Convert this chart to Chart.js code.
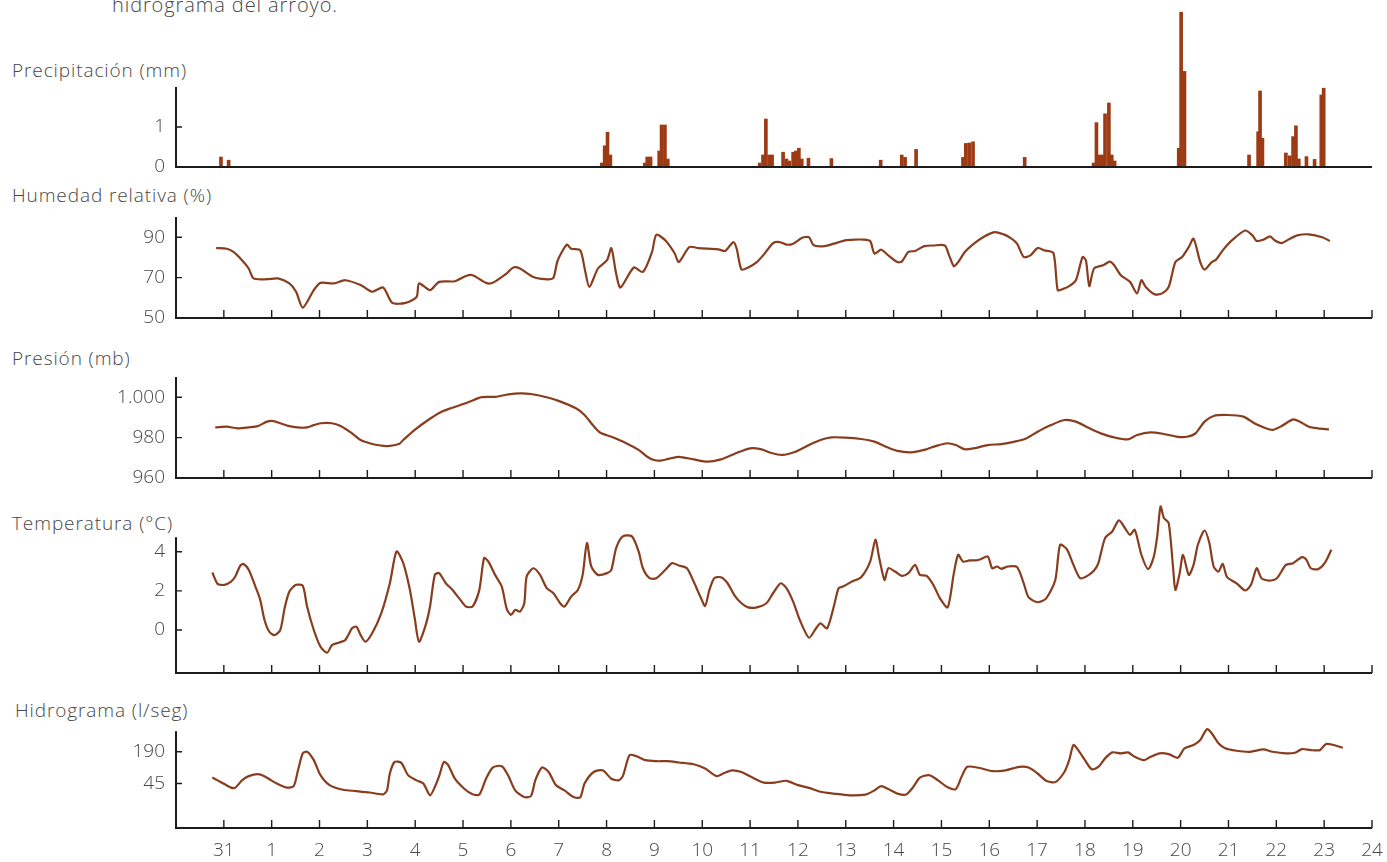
<!DOCTYPE html>
<html>
<head>
<meta charset="utf-8">
<script src="https://cdn.jsdelivr.net/npm/chart.js@4.4.1/dist/chart.umd.min.js"></script>
<style>
  body { margin: 0; background: #fff; width: 1387px; height: 862px; overflow: hidden; position: relative; font-family: "Open Sans", Lato, sans-serif; }
  .label { position: absolute; left: 12px; font-size: 19px; line-height: 22px; color: #474747; font-weight: 300; white-space: nowrap; letter-spacing: 0.9px; }
  canvas { position: absolute; left: 0; }
</style>
</head>
<body>
<div class="label" style="left:112px; top:-6px; font-size:20px">hidrograma del arroyo.</div>
<div class="label" style="top:59px">Precipitación (mm)</div>
<div class="label" style="top:184px">Humedad relativa (%)</div>
<div class="label" style="top:347px">Presión (mb)</div>
<div class="label" style="top:512px">Temperatura (°C)</div>
<div class="label" style="left:15px; top:699px">Hidrograma (l/seg)</div>

<canvas id="precip" width="1387" height="175" style="top:0px"></canvas>
<canvas id="humedad" width="1387" height="119" style="top:207px"></canvas>
<canvas id="presion" width="1387" height="119" style="top:367px"></canvas>
<canvas id="temp" width="1387" height="190" style="top:491px"></canvas>
<canvas id="hidro" width="1387" height="147" style="top:715px"></canvas>

<script>
// x axis: day 0 is the 31st, then 1..24
const dayTicks = [0,1,2,3,4,5,6,7,8,9,10,11,12,13,14,15,16,17,18,19,20,21,22,23,24];
const dayLabels = ['31','1','2','3','4','5','6','7','8','9','10','11','12','13','14','15','16','17','18','19','20','21','22','23','24'];

// Precipitación (mm)
const precipDays = [-0.06,0.1,7.9,7.96,8.02,8.08,8.8,8.85,8.92,9.1,9.15,9.22,9.28,11.2,11.27,11.33,11.4,11.46,11.69,11.76,11.82,11.9,11.96,12.02,12.08,12.22,12.7,13.73,14.17,14.24,14.47,15.45,15.51,15.58,15.66,16.74,18.18,18.24,18.3,18.36,18.42,18.5,18.56,18.62,19.96,20.01,20.08,21.43,21.62,21.66,21.71,22.2,22.28,22.35,22.41,22.47,22.63,22.8,22.94,22.99];
const precipMm = [0.25,0.17,0.1,0.53,0.87,0.3,0.1,0.25,0.25,0.4,1.05,1.05,0.2,0.1,0.3,1.2,0.3,0.3,0.37,0.2,0.15,0.37,0.4,0.47,0.2,0.22,0.21,0.17,0.3,0.24,0.44,0.24,0.59,0.6,0.63,0.24,0.1,1.11,0.3,0.3,1.33,1.6,0.3,0.15,0.47,3.87,2.39,0.3,0.88,1.9,0.72,0.35,0.28,0.76,1.03,0.2,0.26,0.19,1.8,1.97];
const precipTicks = [0, 1];

// Humedad relativa (%)
const humDays = [-0.16,0.06,0.2,0.38,0.52,0.62,0.9,1.13,1.37,1.51,1.65,1.88,2.02,2.3,2.54,2.86,3.1,3.33,3.52,3.8,4.03,4.08,4.31,4.5,4.83,5.06,5.2,5.48,5.62,5.91,6.05,6.19,6.47,6.79,6.89,6.98,7.17,7.26,7.45,7.54,7.64,7.82,8.01,8.1,8.2,8.29,8.57,8.76,8.95,9.04,9.23,9.42,9.51,9.73,9.92,10.1,10.34,10.48,10.65,10.72,10.82,10.96,11.14,11.29,11.48,11.62,11.76,11.9,12.09,12.23,12.33,12.56,12.75,12.99,13.18,13.37,13.51,13.6,13.74,13.89,14.08,14.17,14.31,14.45,14.64,14.83,15.07,15.16,15.26,15.35,15.49,15.68,15.87,16.11,16.3,16.44,16.58,16.72,16.86,17.01,17.15,17.34,17.43,17.53,17.67,17.81,17.95,18.02,18.09,18.19,18.38,18.52,18.61,18.75,18.94,19.09,19.18,19.27,19.46,19.61,19.75,19.89,20.03,20.17,20.27,20.41,20.5,20.65,20.74,20.88,21.07,21.35,21.5,21.59,21.73,21.87,21.97,22.11,22.25,22.44,22.68,22.96,23.12];
const humValues = [84.6,84.3,82.7,78.6,74.5,69.6,69.2,69.6,67.1,63,55.1,63.8,67.4,67.1,68.7,66.3,63,65.1,57.5,57.5,60.5,67.1,63.8,67.9,68.2,70.8,71.2,67.4,67.4,72,75,74.5,70.3,69.1,69.9,78.6,86.3,84.3,83.5,74.8,65.4,74.5,78.6,84.6,72,65.1,75,72.8,82.7,91.2,88.4,82.2,77.7,85.1,84.6,84.3,84,83.2,87.6,84.3,74,75,77.7,81.5,87.1,87.6,86.3,86.8,89.7,90,86,85.6,86.8,88.4,88.8,88.8,88.1,81.9,83.8,81,77.7,77.9,82.7,83.2,85.6,85.9,85.9,81,75.6,77.7,82.7,86.8,90,92.5,91.4,89.7,86.8,80.2,81,84.6,83.5,82.2,63.8,64.3,65.8,68.7,80.2,78.6,65.8,74.5,76.1,77.9,76.1,71.2,67.9,62.2,68.7,65.4,61.7,62.2,65.4,77.7,80.2,85.1,89.3,77.7,74,77.7,78.9,83.5,88.4,93.3,90.9,88.1,88.8,90.4,88.4,87.1,88.8,90.9,91.4,90,88.1];
const humTicks = [50, 70, 90];

// Presión (mb)
const presDays = [-0.18,0.06,0.29,0.52,0.71,0.9,1.04,1.18,1.37,1.6,1.74,1.88,2.02,2.26,2.44,2.68,2.86,3.05,3.24,3.43,3.66,3.75,3.99,4.27,4.55,4.74,5.11,5.39,5.67,5.95,6.19,6.42,6.7,6.98,7.36,7.54,7.73,7.87,8.1,8.39,8.67,8.85,8.99,9.13,9.32,9.51,9.82,10.11,10.39,10.67,11.0,11.24,11.43,11.67,11.95,12.23,12.47,12.7,12.99,13.32,13.6,13.84,14.08,14.36,14.64,14.88,15.12,15.3,15.49,15.68,15.97,16.25,16.53,16.77,17.01,17.29,17.57,17.81,18.05,18.33,18.61,18.9,19.09,19.37,19.65,19.94,20.13,20.31,20.5,20.69,20.97,21.31,21.54,21.73,21.92,22.11,22.35,22.49,22.68,22.87,23.1];
const presValues = [985.1,985.4,984.6,985.1,985.7,987.9,988.2,987.1,985.7,984.9,985.1,986.2,987.1,987.1,985.7,982.1,978.8,977.2,976.2,975.8,976.8,978.8,983.8,988.7,992.8,994.5,997.5,1000,1000.2,1001.4,1001.9,1001.6,1000.2,998.3,994.5,991.2,985.7,982.4,980.4,977.5,973.9,970.5,968.9,968.6,969.6,970.5,969.2,968.1,969.2,971.9,974.7,974.2,972.5,971.4,973,976.3,978.8,980.1,980,979.3,978,975.5,973.4,972.7,973.9,975.8,977.2,976.3,974.2,974.7,976.3,976.8,978,979.6,982.9,986.2,988.7,987.9,985.1,982.1,980.1,979.1,981.3,982.6,981.8,980.4,980.4,982.1,987.9,990.7,991.2,990.4,987.1,985.1,983.8,985.7,989,987.9,985.4,984.6,984.1];
const presTicks = [960, 980, 1000];
const presTickLabels = ['960', '980', '1.000'];

// Temperatura (°C)
const tempDays = [-0.24,-0.13,0.01,0.15,0.24,0.34,0.41,0.52,0.66,0.76,0.85,0.95,1.06,1.18,1.27,1.37,1.51,1.65,1.74,1.88,2.02,2.16,2.26,2.4,2.54,2.68,2.77,2.86,2.96,3.1,3.29,3.47,3.61,3.75,3.89,3.99,4.08,4.22,4.31,4.41,4.5,4.64,4.78,4.92,5.06,5.2,5.34,5.44,5.53,5.67,5.81,5.91,6.0,6.09,6.19,6.28,6.33,6.47,6.61,6.75,6.89,7.03,7.12,7.26,7.4,7.5,7.59,7.68,7.82,8.01,8.1,8.2,8.34,8.53,8.67,8.76,8.9,9.04,9.23,9.37,9.51,9.68,9.82,9.96,10.06,10.15,10.25,10.39,10.53,10.67,10.82,10.96,11.14,11.34,11.48,11.64,11.76,11.9,12.04,12.23,12.38,12.47,12.61,12.75,12.85,12.94,13.13,13.32,13.51,13.62,13.7,13.81,13.89,14.03,14.17,14.31,14.45,14.55,14.69,14.83,14.97,15.13,15.26,15.35,15.45,15.59,15.73,15.82,15.97,16.06,16.16,16.25,16.39,16.58,16.72,16.82,17.01,17.19,17.38,17.48,17.62,17.76,17.9,18.05,18.19,18.28,18.42,18.57,18.71,18.85,18.94,19.04,19.18,19.32,19.44,19.51,19.58,19.65,19.75,19.84,19.89,19.98,20.05,20.17,20.27,20.36,20.5,20.6,20.69,20.79,20.88,20.97,21.17,21.35,21.47,21.59,21.69,21.83,22.01,22.2,22.35,22.54,22.63,22.72,22.87,23.01,23.15];
const tempValues = [2.94,2.36,2.31,2.48,2.74,3.28,3.38,3.08,2.22,1.54,0.51,-0.09,-0.26,0,1.11,1.97,2.31,2.26,1.2,0,-0.85,-1.16,-0.77,-0.65,-0.51,0.09,0.17,-0.26,-0.6,-0.17,0.85,2.39,4.02,3.42,2.05,0.6,-0.6,0.26,1.2,2.82,2.91,2.39,2.05,1.62,1.2,1.2,2.05,3.68,3.5,2.82,2.22,1.11,0.77,1.03,0.94,1.37,2.74,3.16,2.82,2.14,1.88,1.37,1.2,1.71,2.05,2.82,4.45,3.25,2.82,2.91,3.08,4.19,4.79,4.79,4.02,3.16,2.65,2.65,3.08,3.42,3.3,3.16,2.48,1.71,1.23,2.05,2.65,2.7,2.39,1.79,1.37,1.16,1.16,1.37,1.88,2.39,2.14,1.45,0.51,-0.39,0.09,0.34,0.09,1.2,2.14,2.22,2.48,2.7,3.5,4.62,3.68,2.56,3.16,2.99,2.77,2.91,3.33,2.82,2.77,2.31,1.62,1.16,2.91,3.85,3.5,3.56,3.56,3.62,3.76,3.16,3.25,3.13,3.25,3.22,2.39,1.68,1.42,1.62,2.56,4.36,4.14,3.33,2.65,2.77,3.04,3.42,4.7,5.04,5.61,5.16,4.87,5.13,3.85,3.11,3.76,4.79,6.32,5.73,5.47,3.25,2.05,2.91,3.85,2.82,3.33,4.36,5.09,4.45,3.25,2.99,3.38,2.7,2.39,2.02,2.31,3.16,2.65,2.53,2.65,3.33,3.42,3.73,3.59,3.16,3.11,3.42,4.1];
const tempTicks = [0, 2, 4];

// Hidrograma (l/seg)
const hidroDays = [-0.24,-0.13,0.01,0.15,0.24,0.38,0.52,0.71,0.85,0.99,1.13,1.32,1.46,1.55,1.65,1.74,1.88,2.02,2.21,2.49,2.77,3.05,3.33,3.41,3.47,3.57,3.71,3.85,4.03,4.17,4.31,4.41,4.5,4.6,4.69,4.83,5.02,5.2,5.34,5.48,5.62,5.81,5.95,6.09,6.28,6.42,6.51,6.65,6.79,6.94,7.12,7.31,7.45,7.54,7.73,7.92,8.1,8.25,8.34,8.48,8.62,8.81,9.04,9.27,9.51,9.82,10.06,10.3,10.44,10.62,10.82,11.05,11.29,11.52,11.76,12.0,12.23,12.47,12.75,13.08,13.41,13.6,13.74,13.89,14.08,14.26,14.41,14.55,14.74,14.93,15.12,15.3,15.42,15.54,15.78,16.06,16.34,16.63,16.82,17.01,17.19,17.38,17.57,17.67,17.76,17.86,18.0,18.14,18.28,18.42,18.57,18.75,18.9,19.04,19.23,19.37,19.56,19.75,19.94,20.08,20.27,20.41,20.55,20.65,20.79,20.93,21.17,21.45,21.73,21.92,22.2,22.39,22.54,22.72,22.91,23.04,23.2,23.39];
const hidroValues = [59,52,44,37.5,37.5,52,63,69,63,52,44,37.5,40,82,177,190,130,66,42,34,32,30,27.6,33,71,120,115,66,52,45,26.4,38.5,63,120,104,56,36,27.6,27.3,56,93,99,63,33,24.4,25.6,52,93,76,42,33,24.4,24.1,45,76,82,56,52,63,163,156,130,124,124,117,108,89,63,71,82,76,59,47,47,51,42,37,31,28.5,26.4,27.3,33,40,35,28.5,27.3,38.5,59,66,52,38.5,35,61,96,92,79,82,96,93,71,51,48,76,130,258,205,130,86,96,141,185,177,185,151,130,151,177,171,145,222,258,324,528,440,279,222,199,190,212,190,177,182,215,205,205,270,258,228];
const hidroTicks = [45, 190];

const inkColor = '#474747';
const lineColor = '#883d1e';
const barColor = '#9c3a14';
const tickFont = { family: 'Open Sans', size: 19, weight: '300' };

function toPoints(days, values) {
    return days.map((d, i) => ({ x: d, y: values[i] }));
}

// Draws the axes the way the book does: y axis line up to a given value,
// x axis line, short inward tick marks
const framePlugin = {
    id: 'frame',
    afterDatasetsDraw(chart, args, opts) {
        const ctx = chart.ctx;
        const xs = chart.scales.x;
        const ys = chart.scales.y;
        const area = chart.chartArea;
        ctx.save();
        ctx.strokeStyle = '#1c1c1c';
        ctx.lineWidth = 2;
        ctx.beginPath();
        ctx.moveTo(area.left, area.bottom);
        ctx.lineTo(area.left, ys.getPixelForValue(opts.axisTop));
        ctx.moveTo(area.left - 1, area.bottom);
        ctx.lineTo(area.right, area.bottom);
        ctx.stroke();
        ctx.lineWidth = 1.4;
        ctx.beginPath();
        if (opts.dayMarks) {
            dayTicks.forEach(d => {
                const px = xs.getPixelForValue(d);
                ctx.moveTo(px, area.bottom);
                ctx.lineTo(px, area.bottom - 8);
            });
        }
        ys.ticks.forEach(t => {
            const py = ys.getPixelForValue(t.value);
            ctx.moveTo(area.left, py);
            ctx.lineTo(area.left + 6, py);
        });
        ctx.stroke();
        ctx.restore();
    }
};

function makePanel(id, dataset, type, yScale, tickValues, tickLabels, axisTop, dayMarks, showDays, padTop) {
    const ctx = document.getElementById(id);
    return new Chart(ctx, {
        type: type,
        data: { datasets: [dataset] },
        plugins: [framePlugin],
        options: {
            responsive: false,
            animation: false,
            events: [],
            layout: { padding: { top: padTop, right: 15, bottom: 0, left: 0 } },
            plugins: {
                legend: { display: false },
                tooltip: { enabled: false },
                frame: { axisTop: axisTop, dayMarks: dayMarks }
            },
            scales: {
                x: {
                    type: 'linear',
                    min: -1,
                    max: 24,
                    offset: false,
                    grid: { display: false, drawTicks: false },
                    border: { display: false },
                    ticks: {
                        display: showDays,
                        color: inkColor,
                        padding: 11,
                        maxRotation: 0,
                        autoSkip: false,
                        font: tickFont,
                        callback: (v, i) => dayLabels[i]
                    },
                    afterBuildTicks: scale => {
                        scale.ticks = dayTicks.map(v => ({ value: v }));
                    },
                    afterFit: scale => {
                        scale.height = showDays ? 34 : 8;
                        scale.paddingLeft = 0;
                        scale.paddingRight = 0;
                    }
                },
                y: Object.assign({
                    grid: { display: false, drawTicks: false },
                    border: { display: false },
                    ticks: {
                        color: inkColor,
                        padding: 11,
                        autoSkip: false,
                        font: tickFont,
                        callback: (v, i) => tickLabels[i]
                    },
                    afterBuildTicks: scale => {
                        scale.ticks = tickValues.map(v => ({ value: v }));
                    },
                    afterFit: scale => {
                        scale.width = 176;
                        scale.paddingTop = 0;
                        scale.paddingBottom = 0;
                    }
                }, yScale)
            }
        }
    });
}

function lineSet(days, values) {
    return {
        data: toPoints(days, values),
        borderColor: lineColor,
        borderWidth: 2.2,
        pointRadius: 0,
        tension: 0.25,
        fill: false,
        clip: false
    };
}

// Precipitación: bars
makePanel('precip', {
    data: toPoints(precipDays, precipMm),
    backgroundColor: barColor,
    barThickness: 3,
    grouped: false,
    clip: false
}, 'bar', { type: 'linear', min: 0, max: 4.05 }, precipTicks, precipTicks.map(String), 2, false, false, 5);

makePanel('humedad', lineSet(humDays, humValues), 'line',
    { type: 'linear', min: 50, max: 100 }, humTicks, humTicks.map(String), 100, true, false, 10);

makePanel('presion', lineSet(presDays, presValues), 'line',
    { type: 'linear', min: 960, max: 1010 }, presTicks, presTickLabels, 1010, true, false, 10);

makePanel('temp', lineSet(tempDays, tempValues), 'line',
    { type: 'linear', min: -2.2, max: 6.6 }, tempTicks, tempTicks.map(String), 4.75, true, false, 10);

makePanel('hidro', lineSet(hidroDays, hidroValues), 'line',
    { type: 'logarithmic', min: 6, max: 640 }, hidroTicks, hidroTicks.map(String), 480, true, true, 10);
</script>
</body>
</html>
